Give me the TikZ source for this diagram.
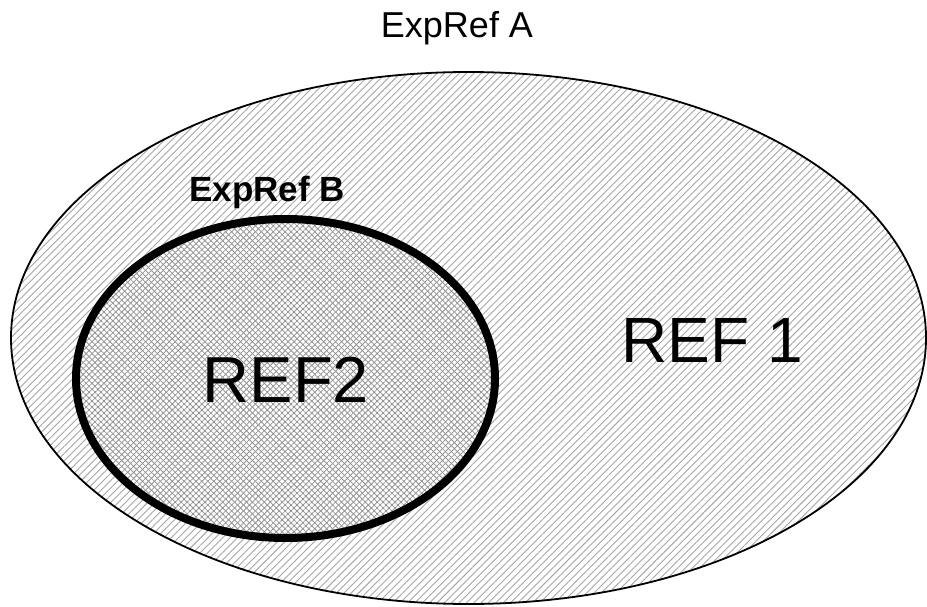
\documentclass[tikz,border=0pt]{standalone}
\usepackage{fontspec}
\setmainfont{Liberation Sans}
\usetikzlibrary{patterns.meta}
\tikzset{
  outerset/.style={draw=black, line width=1.8pt,
    pattern={Lines[angle=45,distance=5.2pt,line width=0.9pt]}, pattern color=black!35},
  innerset/.style={draw=black, line width=8pt,
    pattern={Lines[angle=45,distance=4.2pt,line width=0.8pt]}, pattern color=black!42},
  innercross/.style={
    pattern={Lines[angle=-45,distance=4.2pt,line width=0.8pt]}, pattern color=black!42},
  lbl/.style={inner sep=0pt, anchor=base, text=black}
}
\begin{document}
\begin{tikzpicture}[x=1pt,y=1pt]
\useasboundingbox (0,0) rectangle (927,606);
\fill[white] (0,0) rectangle (927,606);
% ExpRef A
\path[outerset] (468.5,268) ellipse [x radius=457.5, y radius=266];
% ExpRef B
\fill[white] (285.5,227.5) ellipse [x radius=209.5, y radius=159.5];
\path[innercross] (285.5,227.5) ellipse [x radius=209.5, y radius=159.5];
\path[innerset] (285.5,227.5) ellipse [x radius=209.5, y radius=159.5];
% labels
\node[lbl, font=\fontsize{36}{40}\selectfont] (labA) at (457,568) {ExpRef A};
\node[lbl, font=\fontsize{35}{40}\selectfont\bfseries] (labB) at (267,404) {ExpRef B};
\node[lbl, font=\fontsize{65}{70}\selectfont] (ref2) at (286,204) {REF2};
\node[lbl, font=\fontsize{64}{70}\selectfont] (ref1) at (712,243) {REF 1};
\end{tikzpicture}
\end{document}
